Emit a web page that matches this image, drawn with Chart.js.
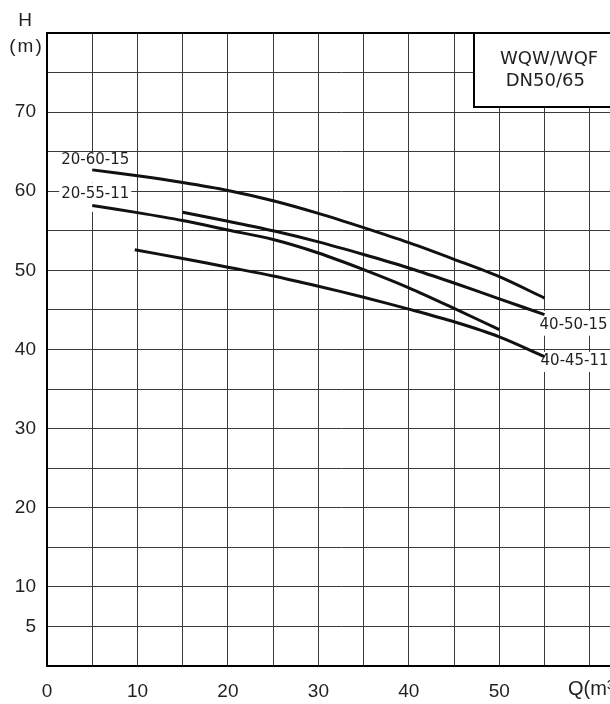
<!DOCTYPE html>
<html>
<head>
<meta charset="utf-8">
<script src="https://cdn.jsdelivr.net/npm/chart.js@4/dist/chart.umd.min.js"></script>
<style>
  html, body { margin: 0; padding: 0; background: #fff; overflow: hidden; }
  canvas { display: block; }
</style>
</head>
<body>
<canvas id="chart" width="660" height="704"></canvas>
<script>
// pump curves, flow Q (m3/h) against head H (m)
const q_20_60_15 = [5, 10, 15, 20, 25, 30, 35, 40, 45, 50, 55];
const h_20_60_15 = [62.7, 61.95, 61.1, 60.1, 58.8, 57.2, 55.4, 53.5, 51.4, 49.2, 46.5];

const q_20_55_11 = [5, 10, 15, 20, 25, 30, 35, 40, 45, 50];
const h_20_55_11 = [58.2, 57.3, 56.3, 55.1, 53.9, 52.2, 50.1, 47.8, 45.2, 42.5];

const q_40_50_15 = [15, 20, 25, 30, 35, 40, 45, 50, 55];
const h_40_50_15 = [57.35, 56.2, 55.0, 53.6, 52.0, 50.3, 48.4, 46.4, 44.4];

const q_40_45_11 = [9.7, 15, 20, 25, 30, 35, 40, 45, 50, 55];
const h_40_45_11 = [52.6, 51.5, 50.4, 49.3, 48.0, 46.6, 45.1, 43.5, 41.6, 39.1];

const modelNames = ["20-60-15", "20-55-11", "40-50-15", "40-45-11"];
const yTickLabels = [5, 10, 20, 30, 40, 50, 60, 70];
const xTickLabels = [0, 10, 20, 30, 40, 50];
const titleLines = ["WQW/WQF", " DN50/65"];

const ink = "#231f20";
const tickFont = { family: "'Liberation Sans', Arial, sans-serif", size: 19 };

function pairs(qs, hs) {
  return qs.map((q, i) => ({ x: q, y: hs[i] }));
}

function curve(label, qs, hs) {
  return {
    label: label,
    data: pairs(qs, hs),
    showLine: true,
    borderColor: "#111",
    borderWidth: 3,
    pointRadius: 0,
    fill: false,
    tension: 0.3,
  };
}

// where each model name sits, relative to the first or last point of its curve
const nameSpots = [
  { ds: 0, at: "start", dx: -31, dy: -9.3, top: -8, bottom: 22 },
  { ds: 1, at: "start", dx: -31, dy: -11.7, top: -11, bottom: 18 },
  { ds: 2, at: "end", dx: -5, dy: 10, top: -14, bottom: 11 },
  { ds: 3, at: "end", dx: -4, dy: 4.3, top: -9, bottom: 11 },
];

function spotOf(chart, s) {
  const pts = chart.data.datasets[s.ds].data;
  const p = s.at === "start" ? pts[0] : pts[pts.length - 1];
  const xs = chart.scales.x, ys = chart.scales.y;
  return { x: xs.getPixelForValue(p.x) + s.dx, y: ys.getPixelForValue(p.y) + s.dy };
}

const nameFont = "15px 'DejaVu Sans', sans-serif";

const decorations = {
  id: "decorations",
  beforeDatasetsDraw(chart) {
    const ctx = chart.ctx;
    ctx.save();
    ctx.font = nameFont;
    ctx.fillStyle = "#fff";
    nameSpots.forEach(s => {
      const p = spotOf(chart, s);
      const w = ctx.measureText(modelNames[s.ds]).width;
      ctx.fillRect(p.x - 2, p.y + s.top, w + 4, s.bottom - s.top);
    });
    ctx.restore();
  },
  afterDatasetsDraw(chart) {
    const ctx = chart.ctx;
    const a = chart.chartArea;
    ctx.save();

    // model names
    ctx.font = nameFont;
    ctx.fillStyle = ink;
    ctx.textAlign = "left";
    ctx.textBaseline = "middle";
    nameSpots.forEach(s => {
      const p = spotOf(chart, s);
      ctx.fillText(modelNames[s.ds], p.x, p.y);
    });

    // series title box in the top right corner
    const bx = a.left + 427, by = a.top, bh = 74;
    ctx.fillStyle = "#fff";
    ctx.fillRect(bx, by, a.right - bx, bh);
    ctx.strokeStyle = "#000";
    ctx.lineWidth = 2;
    ctx.strokeRect(bx, by, a.right - bx + 10, bh);
    ctx.fillStyle = ink;
    ctx.font = "18px 'DejaVu Sans', sans-serif";
    ctx.fillText(titleLines[0], bx + 26, by + 26);
    ctx.fillText(titleLines[1], bx + 26, by + 48);

    // top frame line
    ctx.beginPath();
    ctx.moveTo(a.left - 1, a.top);
    ctx.lineTo(a.right + 10, a.top);
    ctx.stroke();

    // axis titles
    ctx.font = "19px 'Liberation Sans', Arial, sans-serif";
    ctx.textAlign = "center";
    ctx.fillText("H", 25, 21);
    ctx.letterSpacing = "2px";
    ctx.fillText("(m)", 26.5, 47);
    ctx.letterSpacing = "0px";
    ctx.textAlign = "left";
    ctx.font = "20px 'Liberation Sans', Arial, sans-serif";
    ctx.fillText("Q(m³/h)", 568, 689);
    ctx.restore();
  },
};

new Chart(document.getElementById("chart").getContext("2d"), {
  type: "scatter",
  data: {
    datasets: [
      curve(modelNames[0], q_20_60_15, h_20_60_15),
      curve(modelNames[1], q_20_55_11, h_20_55_11),
      curve(modelNames[2], q_40_50_15, h_40_50_15),
      curve(modelNames[3], q_40_45_11, h_40_45_11),
    ],
  },
  options: {
    responsive: false,
    animation: false,
    devicePixelRatio: 1,
    layout: { padding: { top: 33, right: 25, left: 0, bottom: 0 } },
    plugins: { legend: { display: false }, tooltip: { enabled: false } },
    scales: {
      x: {
        type: "linear",
        min: 0,
        max: 65,
        afterFit: s => { s.height = 38; },
        ticks: {
          stepSize: 5,
          autoSkip: false,
          maxRotation: 0,
          padding: 14,
          color: ink,
          font: tickFont,
          callback: v => (xTickLabels.includes(v) ? String(v) : ""),
        },
        grid: { color: "#3a3a3a", lineWidth: 1, drawTicks: false },
        border: { display: true, color: "#000", width: 2 },
      },
      y: {
        min: 0,
        max: 80,
        afterFit: s => { s.width = 47; },
        ticks: {
          stepSize: 5,
          autoSkip: false,
          padding: 11,
          color: ink,
          font: tickFont,
          callback: v => (yTickLabels.includes(v) ? String(v) : ""),
        },
        grid: { color: "#3a3a3a", lineWidth: 1, drawTicks: false },
        border: { display: true, color: "#000", width: 2 },
      },
    },
  },
  plugins: [decorations],
});
</script>
</body>
</html>
